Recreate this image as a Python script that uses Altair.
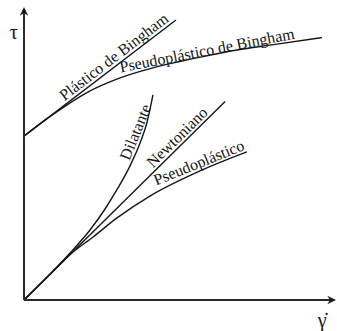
import altair as alt
import pandas as pd

# Flow curves: shear rate (x) vs. shear stress (y), arbitrary units 0-100
bingham_x = [0, 49.5]
bingham_y = [56.9, 97.2]

pseudo_bingham_x = [0, 6.5, 12.7, 20.5, 31.3, 42.0, 50.8, 58.3, 69.4, 80.1, 97.1]
pseudo_bingham_y = [56.9, 62.2, 66.8, 72.0, 77.1, 80.6, 82.8, 84.5, 86.8, 88.5, 91.1]

dilatant_x = [0, 8.5, 15.0, 21.5, 26.4, 30.6, 34.5, 37.8, 40.1, 42.0]
dilatant_y = [0, 9.0, 16.3, 24.3, 31.6, 38.9, 46.5, 54.5, 61.8, 71.2]

newtonian_x = [0, 65.5]
newtonian_y = [0, 68.9]

pseudo_x = [0, 8.5, 15.0, 22.5, 30.3, 41.0, 57.3, 72.6]
pseudo_y = [0, 8.9, 15.8, 21.9, 28.5, 36.1, 44.8, 51.4]

# Curve names written along each curve
curve_names = ["Plástico de Bingham", "Pseudoplástico de Bingham",
               "Dilatante", "Newtoniano", "Pseudoplástico"]
name_x = [30.3, 59.9, 37.9, 51.1, 57.6]
name_y = [83.0, 84.9, 57.6, 55.2, 46.0]
name_angle = [322.6, 349, 292, 315.4, 338]

# Axis symbols
y_symbol = "τ"
x_symbol = "γ̇"

INK = "#161616"
SERIF = "Liberation Serif"

curves = []
for name, xs, ys in [
    ("bingham", bingham_x, bingham_y),
    ("pseudo_bingham", pseudo_bingham_x, pseudo_bingham_y),
    ("dilatant", dilatant_x, dilatant_y),
    ("newtonian", newtonian_x, newtonian_y),
    ("pseudo", pseudo_x, pseudo_y),
]:
    for i, (x, y) in enumerate(zip(xs, ys)):
        curves.append({"curve": name, "i": i, "x": x, "y": y})
curves = pd.DataFrame(curves)

labels = pd.DataFrame({"text": curve_names, "x": name_x, "y": name_y, "angle": name_angle})

xs = alt.Scale(domain=[0, 100], nice=False, zero=False)
ys = alt.Scale(domain=[0, 100], nice=False, zero=False)

lines = alt.Chart(curves).mark_line(
    interpolate="monotone", color=INK, strokeWidth=1.4
).encode(
    x=alt.X("x:Q", scale=xs, axis=None),
    y=alt.Y("y:Q", scale=ys, axis=None),
    detail="curve:N",
    order="i:Q",
)

# Axis lines drawn from the origin to the ends of the domain
axes_df = pd.DataFrame({"x": [0, 0], "y": [0, 0], "x2": [0, 100], "y2": [100, 0]})
axes = alt.Chart(axes_df).mark_rule(color="#2a2a2a", strokeWidth=2).encode(
    x=alt.X("x:Q", scale=xs, axis=None),
    y=alt.Y("y:Q", scale=ys, axis=None),
    x2="x2:Q",
    y2="y2:Q",
)

arrow_df = pd.DataFrame({"x": [0, 100], "y": [100, 0], "angle": [0, 90]})
arrows = alt.Chart(arrow_df).mark_point(
    shape="M0,-1 L0.85,0.75 L0,0.2 L-0.85,0.75 Z",
    filled=True, size=100, color="#1a1a1a", opacity=1,
).encode(
    x=alt.X("x:Q", scale=xs, axis=None),
    y=alt.Y("y:Q", scale=ys, axis=None),
    angle=alt.Angle("angle:Q", scale=None),
)

names = alt.Chart(labels).mark_text(
    font=SERIF, fontSize=16, align="center", baseline="alphabetic", color=INK
).encode(
    x=alt.X("x:Q", scale=xs, axis=None),
    y=alt.Y("y:Q", scale=ys, axis=None),
    text="text:N",
    angle=alt.Angle("angle:Q", scale=None),
)

sym_df = pd.DataFrame({"text": [y_symbol, x_symbol], "x": [-3.3, 97.1], "y": [92.7, -7.3]})
symbols = alt.Chart(sym_df).mark_text(
    font=SERIF, fontSize=20, align="center", baseline="middle", color=INK
).encode(
    x=alt.X("x:Q", scale=xs, axis=None),
    y=alt.Y("y:Q", scale=ys, axis=None),
    text="text:N",
)

chart = alt.layer(lines, axes, arrows, names, symbols).properties(
    width=307,
    height=288,
    padding={"left": 24, "top": 12, "right": 6, "bottom": 31},
    autosize="none",
    background="white",
).configure_view(stroke=None)

chart.save("out.html", embed_options={"renderer": "svg", "actions": False})
